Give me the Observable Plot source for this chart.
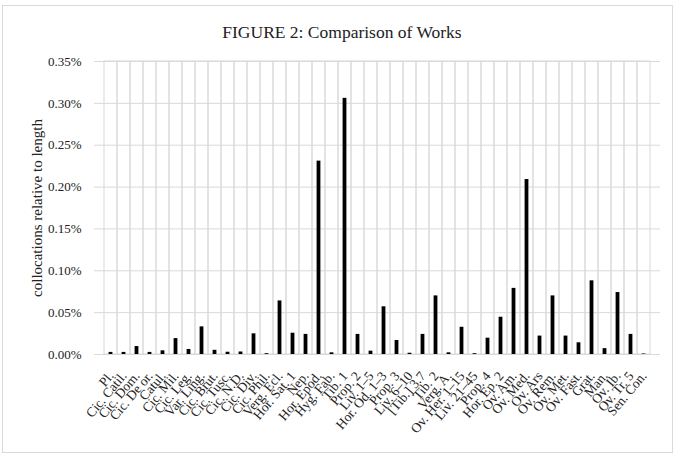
<!DOCTYPE html>
<html>
<head>
<meta charset="utf-8">
<script src="https://cdn.jsdelivr.net/npm/d3@7"></script>
<script src="https://cdn.jsdelivr.net/npm/@observablehq/plot@0.6"></script>
<style>
  html, body { margin: 0; padding: 0; background: #fff; }
  #wrap { position: relative; width: 678px; height: 457px; box-sizing: border-box; overflow: hidden; }
  #frame { position: absolute; left: 2px; top: 5px; width: 671px; height: 448px; border: 1px solid #d9d9d9; box-sizing: border-box; }
  #title { position: absolute; left: 0; top: 22px; width: 684px; text-align: center; font-family: "Liberation Serif", "DejaVu Serif", serif; font-size: 17.5px; color: #222; }
  #chart { position: absolute; left: 0; top: 50px; }
</style>
</head>
<body>
<div id="wrap">
  <div id="frame"></div>
  <div id="title">FIGURE 2: Comparison of Works</div>
  <div id="chart"></div>
</div>
<script>
const works = ["Pl.", "Cic. Catil.", "Cic. Dom.", "Cic. De or.", "Catul.", "Cic. Mil.", "Cic. Leg.", "Var. Ling.", "Cic. Brut.", "Cic. Tusc.", "Cic. N.D.", "Cic. Div.", "Cic. Phil.", "Verg. Ecl.", "Hor. Sat. 1", "Nep.", "Hor. Epod.", "Hyg. Fab.", "Tib. 1", "Prop. 2", "Liv. 1–5", "Hor. Od. 1–3", "Prop. 3", "Liv. 6–10", "[Tib.] 3.7", "Tib. 2", "Verg. A.", "Ov. Her. 1–15", "Liv. 21–45", "Prop. 4", "Hor. Ep. 2", "Ov. Am.", "Ov. Med.", "Ov. Ars", "Ov. Rem.", "Ov. Met.", "Ov. Fast.", "Grat.", "Man.", "Ov. Ib.", "Ov. Tr. 5", "Sen. Con."];
// collocations relative to length, in percent
const values = [0.0025, 0.0025, 0.0095, 0.0025, 0.0044, 0.019, 0.006, 0.033, 0.005, 0.0027, 0.003, 0.0247, 0.001, 0.064, 0.0254, 0.024, 0.231, 0.002, 0.306, 0.024, 0.004, 0.057, 0.0167, 0.0015, 0.024, 0.070, 0.002, 0.0325, 0.001, 0.0195, 0.0445, 0.079, 0.209, 0.022, 0.070, 0.022, 0.014, 0.088, 0.007, 0.074, 0.024, 0.0006];
const yTicks = [0, 0.05, 0.10, 0.15, 0.20, 0.25, 0.30, 0.35];

const data = works.map((w, i) => ({work: w, value: values[i]}));
const font = '"Liberation Serif", "DejaVu Serif", serif';

const chart = Plot.plot({
  width: 678,
  height: 407,
  marginTop: 11,
  marginBottom: 103,
  marginLeft: 94,
  marginRight: 18,
  style: {fontFamily: font, fontSize: "12px", color: "#222", background: "transparent", overflow: "visible"},
  x: {type: "band", domain: works, paddingInner: 0, paddingOuter: 0, label: null, axis: null},
  y: {domain: [0, 0.35], label: null, axis: null},
  marks: [
    Plot.ruleY(yTicks, {stroke: "#d9d9d9", strokeWidth: 1}),
    Plot.barY(works, {x: d => d, y1: 0, y2: 0.35, fill: "none", stroke: "#d9d9d9", strokeWidth: 1}),
    Plot.barY(data, {x: "work", y: "value", fill: "#000", insetLeft: 4.6, insetRight: 4.6}),
    Plot.axisY({ticks: yTicks, tickFormat: d => d.toFixed(2) + "%", tickSize: 0, tickPadding: 13, label: null, fontSize: 13}),
    Plot.text(works, {x: d => d, frameAnchor: "bottom", dy: 19, dx: 0, rotate: -50, textAnchor: "end", lineAnchor: "middle", fontSize: 13.5, fill: "#222"}),
    Plot.text(["collocations relative to length"], {frameAnchor: "left", textAnchor: "middle", dx: -57, rotate: -90, fontSize: 15, fill: "#222"})
  ]
});
document.getElementById("chart").appendChild(chart);
</script>
</body>
</html>
